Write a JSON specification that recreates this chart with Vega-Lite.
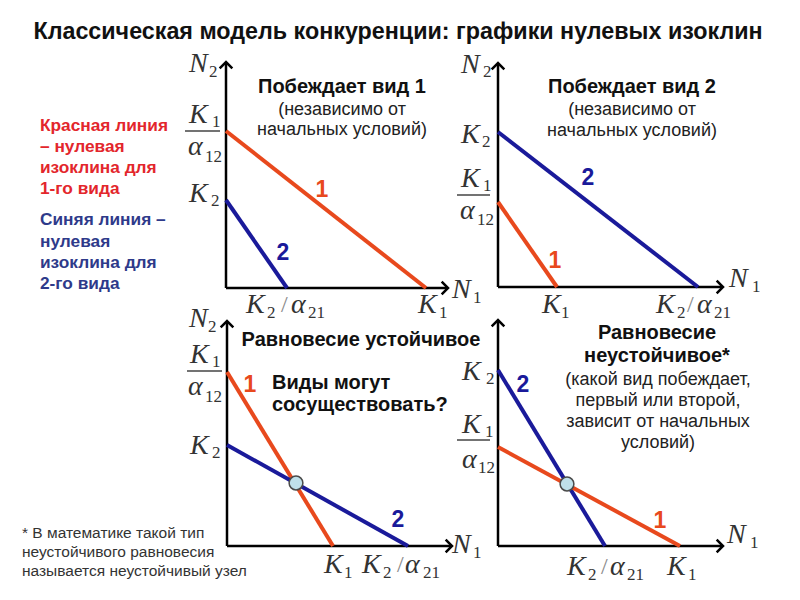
{
  "$schema": "https://vega.github.io/schema/vega-lite/v6.json",
  "width": 800,
  "height": 600,
  "padding": 0,
  "autosize": {"type": "fit", "contains": "padding"},
  "background": "white",
  "config": {"view": {"stroke": null}},
  "datasets": {
    "iso": [
      {"panel": "1", "sp": "1", "x": 226, "y": 131, "x2": 426, "y2": 288},
      {"panel": "1", "sp": "2", "x": 226, "y": 200, "x2": 287, "y2": 288},
      {"panel": "2", "sp": "2", "x": 498, "y": 132, "x2": 698, "y2": 287},
      {"panel": "2", "sp": "1", "x": 498, "y": 202, "x2": 557, "y2": 287},
      {"panel": "3", "sp": "1", "x": 227, "y": 372, "x2": 333, "y2": 546},
      {"panel": "3", "sp": "2", "x": 227, "y": 445, "x2": 408, "y2": 546},
      {"panel": "4", "sp": "2", "x": 498, "y": 370, "x2": 605, "y2": 546},
      {"panel": "4", "sp": "1", "x": 498, "y": 447, "x2": 680, "y2": 546}
    ],
    "axes": [
      {"x": 226, "y": 63, "x2": 226, "y2": 288},
      {"x": 226, "y": 288, "x2": 447, "y2": 288},
      {"x": 498, "y": 64, "x2": 498, "y2": 287},
      {"x": 498, "y": 287, "x2": 722, "y2": 287},
      {"x": 227, "y": 322, "x2": 227, "y2": 546},
      {"x": 227, "y": 546, "x2": 451, "y2": 546},
      {"x": 498, "y": 321, "x2": 498, "y2": 546},
      {"x": 498, "y": 546, "x2": 722, "y2": 546}
    ],
    "arrows": [
      {"x": 226, "y": 62, "dir": "up"},
      {"x": 448, "y": 288, "dir": "right"},
      {"x": 498, "y": 63, "dir": "up"},
      {"x": 723, "y": 287, "dir": "right"},
      {"x": 227, "y": 321, "dir": "up"},
      {"x": 452, "y": 546, "dir": "right"},
      {"x": 498, "y": 320, "dir": "up"},
      {"x": 723, "y": 546, "dir": "right"}
    ],
    "bars": [
      {"x": 185, "x2": 220, "y": 131},
      {"x": 457, "x2": 490, "y": 195},
      {"x": 187, "x2": 222, "y": 371},
      {"x": 457, "x2": 490, "y": 440}
    ],
    "eq": [
      {"x": 296, "y": 483},
      {"x": 567, "y": 484}
    ],
    "math": [
      {"t": "N", "x": 189, "y": 72},
      {"t": "K", "x": 189, "y": 123},
      {"t": "α", "x": 188, "y": 155},
      {"t": "K", "x": 189, "y": 202},
      {"t": "K", "x": 246, "y": 313},
      {"t": "α", "x": 291, "y": 313},
      {"t": "K", "x": 418, "y": 313},
      {"t": "N", "x": 452, "y": 298},
      {"t": "N", "x": 461, "y": 73},
      {"t": "K", "x": 461, "y": 143},
      {"t": "K", "x": 461, "y": 187},
      {"t": "α", "x": 460, "y": 219},
      {"t": "N", "x": 729, "y": 287},
      {"t": "K", "x": 542, "y": 313},
      {"t": "K", "x": 656, "y": 313},
      {"t": "α", "x": 697, "y": 313},
      {"t": "N", "x": 189, "y": 327},
      {"t": "K", "x": 190, "y": 363},
      {"t": "α", "x": 188, "y": 395},
      {"t": "K", "x": 190, "y": 454},
      {"t": "N", "x": 452, "y": 553},
      {"t": "K", "x": 324, "y": 573},
      {"t": "K", "x": 362, "y": 573},
      {"t": "α", "x": 405, "y": 573},
      {"t": "K", "x": 462, "y": 380},
      {"t": "K", "x": 462, "y": 433},
      {"t": "α", "x": 462, "y": 468},
      {"t": "N", "x": 727, "y": 543},
      {"t": "K", "x": 567, "y": 575},
      {"t": "α", "x": 610, "y": 575},
      {"t": "K", "x": 667, "y": 575}
    ],
    "slashes": [
      {"t": "/", "x": 281, "y": 312},
      {"t": "/", "x": 687, "y": 312},
      {"t": "/", "x": 397, "y": 572},
      {"t": "/", "x": 601, "y": 574}
    ],
    "subs": [
      {"t": "2", "x": 209, "y": 77},
      {"t": "1", "x": 212, "y": 127},
      {"t": "12", "x": 205, "y": 162},
      {"t": "2", "x": 211, "y": 206},
      {"t": "2", "x": 267, "y": 318},
      {"t": "21", "x": 308, "y": 318},
      {"t": "1", "x": 439, "y": 318},
      {"t": "1", "x": 473, "y": 303},
      {"t": "2", "x": 483, "y": 77},
      {"t": "2", "x": 482, "y": 147},
      {"t": "1", "x": 483, "y": 191},
      {"t": "12", "x": 477, "y": 225},
      {"t": "1", "x": 752, "y": 292},
      {"t": "1", "x": 561, "y": 318},
      {"t": "2", "x": 677, "y": 318},
      {"t": "21", "x": 714, "y": 318},
      {"t": "2", "x": 208, "y": 332},
      {"t": "1", "x": 212, "y": 367},
      {"t": "12", "x": 205, "y": 402},
      {"t": "2", "x": 212, "y": 458},
      {"t": "1", "x": 473, "y": 558},
      {"t": "1", "x": 344, "y": 578},
      {"t": "2", "x": 383, "y": 578},
      {"t": "21", "x": 423, "y": 578},
      {"t": "2", "x": 486, "y": 384},
      {"t": "1", "x": 485, "y": 437},
      {"t": "12", "x": 478, "y": 473},
      {"t": "1", "x": 750, "y": 548},
      {"t": "2", "x": 588, "y": 580},
      {"t": "21", "x": 627, "y": 580},
      {"t": "1", "x": 688, "y": 580}
    ],
    "title": [
      {"t": "Классическая модель конкуренции: графики нулевых изоклин", "x": 398, "y": 39}
    ],
    "boldC": [
      {"t": "Побеждает вид 1", "x": 342, "y": 93},
      {"t": "Побеждает вид 2", "x": 632, "y": 93},
      {"t": "Равновесие устойчивое", "x": 361, "y": 346},
      {"t": "Равновесие", "x": 657, "y": 339},
      {"t": "неустойчивое*", "x": 657, "y": 362}
    ],
    "boldL": [
      {"t": "Виды могут", "x": 272, "y": 389},
      {"t": "сосуществовать?", "x": 272, "y": 411}
    ],
    "regC": [
      {"t": "(независимо от", "x": 342, "y": 115},
      {"t": "начальных условий)", "x": 342, "y": 135},
      {"t": "(независимо от", "x": 632, "y": 115},
      {"t": "начальных условий)", "x": 632, "y": 136},
      {"t": "(какой вид побеждает,", "x": 658, "y": 385},
      {"t": "первый или второй,", "x": 658, "y": 406},
      {"t": "зависит от начальных", "x": 658, "y": 427},
      {"t": "условий)", "x": 658, "y": 448}
    ],
    "legRed": [
      {"t": "Красная линия", "x": 40, "y": 131},
      {"t": "– нулевая", "x": 40, "y": 152},
      {"t": "изоклина для", "x": 40, "y": 173},
      {"t": "1-го вида", "x": 40, "y": 194}
    ],
    "legBlue": [
      {"t": "Синяя линия –", "x": 40, "y": 225},
      {"t": "нулевая", "x": 40, "y": 247},
      {"t": "изоклина для", "x": 40, "y": 268},
      {"t": "2-го вида", "x": 40, "y": 289}
    ],
    "foot": [
      {"t": "* В математике такой тип", "x": 22, "y": 538},
      {"t": "неустойчивого равновесия", "x": 22, "y": 557},
      {"t": "называется неустойчивый узел", "x": 22, "y": 576}
    ],
    "nums": [
      {"t": "1", "sp": "1", "x": 322, "y": 197},
      {"t": "2", "sp": "2", "x": 283, "y": 260},
      {"t": "2", "sp": "2", "x": 588, "y": 185},
      {"t": "1", "sp": "1", "x": 555, "y": 268},
      {"t": "1", "sp": "1", "x": 250, "y": 392},
      {"t": "2", "sp": "2", "x": 398, "y": 527},
      {"t": "2", "sp": "2", "x": 523, "y": 392},
      {"t": "1", "sp": "1", "x": 660, "y": 528}
    ]
  },
  "encoding": {
    "x": {"field": "x", "type": "quantitative", "scale": {"domain": [0, 800]}, "axis": null},
    "y": {"field": "y", "type": "quantitative", "scale": {"domain": [0, 600], "reverse": true}, "axis": null}
  },
  "layer": [
    {
      "data": {"name": "axes"},
      "mark": {"type": "rule", "color": "black", "strokeWidth": 2.5},
      "encoding": {"x2": {"field": "x2"}, "y2": {"field": "y2"}}
    },
    {
      "data": {"name": "arrows"},
      "mark": {"type": "point", "filled": false, "color": "black", "strokeWidth": 2.5, "size": 160, "opacity": 1},
      "encoding": {
        "shape": {"field": "dir", "type": "nominal", "scale": {"domain": ["up", "right"], "range": ["M -1 1 L 0 0 L 1 1", "M -1 -1 L 0 0 L -1 1"]}, "legend": null}
      }
    },
    {
      "data": {"name": "iso"},
      "mark": {"type": "rule", "strokeWidth": 4},
      "encoding": {
        "x2": {"field": "x2"}, "y2": {"field": "y2"},
        "color": {"field": "sp", "type": "nominal", "scale": {"domain": ["1", "2"], "range": ["#e8491d", "#1a1a9a"]}, "legend": null}
      }
    },
    {
      "data": {"name": "bars"},
      "mark": {"type": "rule", "color": "#444", "strokeWidth": 1.3},
      "encoding": {"x2": {"field": "x2"}}
    },
    {
      "data": {"name": "eq"},
      "mark": {"type": "circle", "fill": "#bfe0ea", "stroke": "#4a4a4a", "strokeWidth": 1.5, "size": 190, "opacity": 1}
    },
    {
      "data": {"name": "math"},
      "mark": {"type": "text", "font": "Liberation Serif", "fontStyle": "italic", "fontSize": 28, "align": "left", "baseline": "alphabetic", "color": "#333"},
      "encoding": {"text": {"field": "t"}}
    },
    {
      "data": {"name": "slashes"},
      "mark": {"type": "text", "font": "Liberation Serif", "fontSize": 24, "align": "left", "baseline": "alphabetic", "color": "#8a8a8a"},
      "encoding": {"text": {"field": "t"}}
    },
    {
      "data": {"name": "subs"},
      "mark": {"type": "text", "font": "Liberation Serif", "fontSize": 17, "align": "left", "baseline": "alphabetic", "color": "#333"},
      "encoding": {"text": {"field": "t"}}
    },
    {
      "data": {"name": "title"},
      "mark": {"type": "text", "font": "Liberation Sans", "fontWeight": "bold", "fontSize": 23.3, "align": "center", "baseline": "alphabetic", "color": "#111"},
      "encoding": {"text": {"field": "t"}}
    },
    {
      "data": {"name": "boldC"},
      "mark": {"type": "text", "font": "Liberation Sans", "fontWeight": "bold", "fontSize": 20, "align": "center", "baseline": "alphabetic", "color": "#111"},
      "encoding": {"text": {"field": "t"}}
    },
    {
      "data": {"name": "boldL"},
      "mark": {"type": "text", "font": "Liberation Sans", "fontWeight": "bold", "fontSize": 20, "align": "left", "baseline": "alphabetic", "color": "#111"},
      "encoding": {"text": {"field": "t"}}
    },
    {
      "data": {"name": "regC"},
      "mark": {"type": "text", "font": "Liberation Sans", "fontSize": 18, "align": "center", "baseline": "alphabetic", "color": "#222"},
      "encoding": {"text": {"field": "t"}}
    },
    {
      "data": {"name": "legRed"},
      "mark": {"type": "text", "font": "Liberation Sans", "fontWeight": "bold", "fontSize": 17.3, "align": "left", "baseline": "alphabetic", "color": "#e3262c"},
      "encoding": {"text": {"field": "t"}}
    },
    {
      "data": {"name": "legBlue"},
      "mark": {"type": "text", "font": "Liberation Sans", "fontWeight": "bold", "fontSize": 17.3, "align": "left", "baseline": "alphabetic", "color": "#2e3a8a"},
      "encoding": {"text": {"field": "t"}}
    },
    {
      "data": {"name": "foot"},
      "mark": {"type": "text", "font": "Liberation Sans", "fontSize": 15.5, "align": "left", "baseline": "alphabetic", "color": "#333"},
      "encoding": {"text": {"field": "t"}}
    },
    {
      "data": {"name": "nums"},
      "mark": {"type": "text", "font": "Liberation Sans", "fontWeight": "bold", "fontSize": 23, "align": "center", "baseline": "alphabetic"},
      "encoding": {
        "text": {"field": "t"},
        "color": {"field": "sp", "type": "nominal", "scale": {"domain": ["1", "2"], "range": ["#e8491d", "#1a1a9a"]}, "legend": null}
      }
    }
  ]
}
